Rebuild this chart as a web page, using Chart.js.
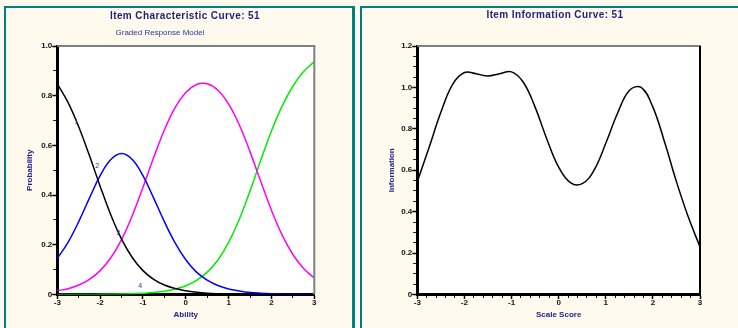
<!DOCTYPE html>
<html><head><meta charset="utf-8">
<script src="https://cdn.jsdelivr.net/npm/chart.js@4"></script>
<style>
html,body{margin:0;padding:0;background:#FFF9EE;width:738px;height:328px;overflow:hidden;font-family:Arial,"Liberation Sans",Helvetica,sans-serif;}
.panel{position:absolute;box-sizing:content-box;border:2px solid #008080;border-bottom:none;background:#FFF9EE;}
#p1{left:4px;top:6px;width:346px;height:330px;border-right-width:3px;}
#p2{left:360px;top:6px;width:400px;height:330px;}
canvas{position:absolute;}
.title{position:absolute;font-weight:bold;font-size:10px;letter-spacing:0.4px;color:#1f1f80;text-align:center;white-space:nowrap;line-height:12px;}
.sub{position:absolute;font-size:8px;color:#333399;white-space:nowrap;line-height:10px;text-align:center;}
</style></head>
<body>
<div class="panel" id="p1"></div>
<div class="panel" id="p2"></div>
<canvas id="c1" width="346" height="320" style="left:6px;top:8px;width:346px;height:320px"></canvas>
<canvas id="c2" width="376" height="320" style="left:362px;top:8px;width:376px;height:320px"></canvas>
<div class="title" style="left:35px;width:300px;top:10px">Item Characteristic Curve: 51</div>
<div class="sub" style="left:60px;width:200px;top:28px">Graded Response Model</div>
<div class="title" style="left:405px;width:300px;top:9px">Item Information Curve: 51</div>
<script>
// ---- data ----
const ability = [-3,-2.75,-2.5,-2.25,-2,-1.75,-1.5,-1.25,-1,-0.75,-0.5,-0.25,0,0.25,0.5,0.75,1,1.25,1.5,1.75,2,2.25,2.5,2.75,3];
const prob1 = [0.848,0.773,0.675,0.559,0.436,0.320,0.223,0.149,0.096,0.061,0.038,0.024,0.015,0.009,0.005,0.003,0.002,0.001,0.001,0,0,0,0,0,0];
const prob2 = [0.145,0.210,0.293,0.388,0.478,0.543,0.567,0.543,0.478,0.388,0.293,0.208,0.140,0.090,0.058,0.036,0.022,0.014,0.008,0.005,0.003,0.002,0.001,0.001,0];
const prob3 = [0.015,0.023,0.038,0.061,0.096,0.148,0.221,0.317,0.431,0.551,0.662,0.752,0.813,0.845,0.848,0.822,0.766,0.682,0.574,0.455,0.339,0.239,0.161,0.105,0.066];
const prob4 = [0,0,0,0,0.001,0.001,0.002,0.003,0.005,0.008,0.013,0.022,0.035,0.057,0.090,0.139,0.210,0.303,0.417,0.540,0.658,0.759,0.838,0.897,0.937];
const categoryNames = ['1','2','3','4'];

const scaleScore = [-3,-2.75,-2.5,-2.25,-2,-1.75,-1.5,-1.25,-1,-0.75,-0.5,-0.25,0,0.25,0.5,0.75,1,1.25,1.5,1.75,2,2.25,2.5,2.75,3];
const information = [0.545,0.71,0.88,1.015,1.072,1.066,1.055,1.066,1.075,1.025,0.905,0.75,0.615,0.54,0.535,0.60,0.73,0.875,0.985,1.0,0.905,0.735,0.545,0.375,0.23];

const xTickValues = [-3,-2,-1,0,1,2,3];
const xTickLabels = ['-3','-2','-1','0','1','2','3'];
const probTickValues = [0,0.2,0.4,0.6,0.8,1.0];
const probTickLabels = ['0','0.2','0.4','0.6','0.8','1.0'];
const infoTickValues = [0,0.2,0.4,0.6,0.8,1.0,1.2];
const infoTickLabels = ['0','0.2','0.4','0.6','0.8','1.0','1.2'];

// ---- styling ----
const FONT = 'Arial, "Liberation Sans", Helvetica, sans-serif';
const NAVY = '#22228a';
function lookup(vals, labels, v){
  for (let i=0;i<vals.length;i++) if (Math.abs(vals[i]-v) < 1e-6) return labels[i];
  return '';
}
function isIn(vals, v){ return lookup(vals, vals.map(()=> 'x'), v) !== ''; }

function xScale(step, titleText){
  return {
    type:'linear', min:-3, max:3,
    ticks:{stepSize:step, autoSkip:false, maxRotation:0, minRotation:0, padding:0, color:'#111',
      font:{family:FONT,size:8,weight:'bold',lineHeight:1},
      callback:(v)=>lookup(xTickValues, xTickLabels, v)},
    grid:{display:true, drawOnChartArea:false, drawTicks:true, tickLength:4.5, tickColor:'#000',
      tickWidth:(c)=> (c.tick && isIn(xTickValues,c.tick.value)) ? 1.5 : 1,
      tickBorderDash:(c)=> (c.tick && isIn(xTickValues,c.tick.value)) ? [] : [2,20]},
    border:{display:true, color:'#000', width:3},
    title:{display:true, text:titleText, color:NAVY, font:{family:FONT,size:8,weight:'bold'}, padding:{top:0,bottom:2.2}},
    afterFit:(s)=>{ s.height = 27.5; }
  };
}
function yScale(max, step, tickVals, tickLabels, titleText, width){
  return {
    type:'linear', min:0, max:max,
    ticks:{stepSize:step, autoSkip:false, padding:0, color:'#111',
      font:{family:FONT,size:8,weight:'bold'},
      callback:(v)=>lookup(tickVals, tickLabels, v)},
    grid:{display:true, drawOnChartArea:false, drawTicks:true, tickLength:5, tickColor:'#000',
      tickWidth:(c)=> (c.tick && isIn(tickVals,c.tick.value)) ? 1.5 : 1,
      tickBorderDash:(c)=> (c.tick && isIn(tickVals,c.tick.value)) ? [] : [0,1,2.5,20]},
    border:{display:true, color:'#000', width:3},
    title:{display:true, text:titleText, color:NAVY, font:{family:FONT,size:8,weight:'bold'}, padding:{top:5.2,bottom:0}},
    afterFit:(s)=>{ s.width = width; }
  };
}
const plotBg = {
  id:'plotBg',
  beforeDraw(chart){
    const a = chart.chartArea, ctx = chart.ctx;
    ctx.save(); ctx.fillStyle = '#ffffff';
    ctx.fillRect(a.left, a.top, a.right-a.left, a.bottom-a.top);
    ctx.restore();
  }
};
function framePlugin(rightColor){
  return {
    id:'frame',
    afterDatasetsDraw(chart){
      const a = chart.chartArea, ctx = chart.ctx;
      ctx.save(); ctx.lineWidth = 2;
      ctx.strokeStyle = '#7f7f7f';
      ctx.beginPath(); ctx.moveTo(a.left, a.top); ctx.lineTo(a.right+1, a.top); ctx.stroke();
      ctx.strokeStyle = rightColor;
      ctx.beginPath(); ctx.moveTo(a.right, a.top); ctx.lineTo(a.right, a.bottom); ctx.stroke();
      ctx.restore();
    }
  };
}
const curveLabelPlugin = {
  id:'curveLabels',
  afterDatasetsDraw(chart, args, opts){
    const ctx = chart.ctx, xs = chart.scales.x, ys = chart.scales.y;
    ctx.save();
    ctx.font = '7px ' + FONT; ctx.fillStyle = '#3333a0';
    ctx.textAlign = 'center'; ctx.textBaseline = 'middle';
    opts.anchors.forEach((p,i)=>{
      ctx.fillText(categoryNames[i], xs.getPixelForValue(p[0]), ys.getPixelForValue(p[1]));
    });
    ctx.restore();
  }
};
function series(xv, yv){ return xv.map((x,i)=>({x:x, y:yv[i]})); }
function ds(data, color){
  return {data:data, borderColor:color, borderWidth:1.5, pointRadius:0, fill:false, tension:0.4};
}

new Chart(document.getElementById('c1'), {
  type:'line',
  data:{datasets:[
    ds(series(ability, prob1), '#000000'),
    ds(series(ability, prob2), '#0000ff'),
    ds(series(ability, prob3), '#ff00ff'),
    ds(series(ability, prob4), '#00ee00')
  ]},
  options:{
    responsive:false, animation:false, devicePixelRatio:1,
    layout:{padding:{left:14, right:37.7, top:38, bottom:6}},
    plugins:{legend:{display:false}, tooltip:{enabled:false}, title:{display:false},
      curveLabels:{anchors:[[-2.556,0.695],[-2.066,0.518],[-1.576,0.249],[-1.062,0.032]]}},
    scales:{
      x: xScale(0.5, 'Ability'),
      y: yScale(1, 0.1, probTickValues, probTickLabels, 'Probability', 37.3)
    }
  },
  plugins:[plotBg, framePlugin('#7f7f7f'), curveLabelPlugin]
});

new Chart(document.getElementById('c2'), {
  type:'line',
  data:{datasets:[ ds(series(scaleScore, information), '#000000') ]},
  options:{
    responsive:false, animation:false, devicePixelRatio:1,
    layout:{padding:{left:20, right:38, top:38, bottom:6}},
    plugins:{legend:{display:false}, tooltip:{enabled:false}, title:{display:false}},
    scales:{
      x: xScale(0.2, 'Scale Score'),
      y: yScale(1.2, 0.05, infoTickValues, infoTickLabels, 'Information', 35.3)
    }
  },
  plugins:[plotBg, framePlugin('#000000')]
});
</script>
</body></html>
